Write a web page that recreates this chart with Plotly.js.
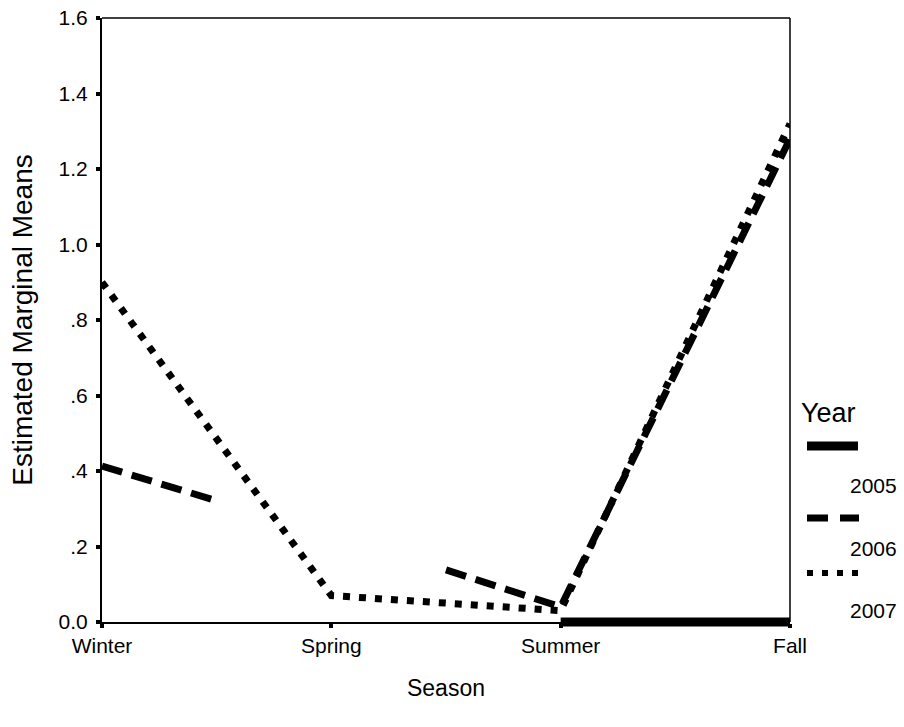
<!DOCTYPE html>
<html>
<head>
<meta charset="utf-8">
<script src="https://cdn.plot.ly/plotly-3.0.1.min.js"></script>
<style>
html,body{margin:0;padding:0;background:#fff;}
#chart{width:904px;height:727px;}
</style>
</head>
<body>
<div id="chart"></div>
<script>
// ---- data ----
var seasons = ['Winter', 'Spring', 'Summer', 'Fall'];
var seasonPos = [0, 1, 2, 3];
var years = ['2005', '2006', '2007'];
var y2005 = [null, null, 0, 0];
// 2006 is drawn in SPSS with a gap between Winter and Summer; visible points
var x2006 = [0, 0.49, null, 1.5, 2, 3];
var y2006 = [0.413, 0.323, null, 0.138, 0.04, 1.28];
var y2007 = [0.90, 0.07, 0.03, 1.32];
var yTickVals = [0, 0.2, 0.4, 0.6, 0.8, 1.0, 1.2, 1.4, 1.6];
var yTickText = ['0.0', '.2', '.4', '.6', '.8', '1.0', '1.2', '1.4', '1.6'];

// ---- layout geometry (pixels) ----
var W = 904, H = 727;
var L = 102, R = 790, T = 18, B = 622; // plot frame
var mB = 95; // bottom margin; inner subplot extends 10px below axis so thick lines aren't clipped
var paperH = H - T - mB;
var paperW = R - L;
function px(p) { return (p - L) / paperW; }
function py(p) { return (H - mB - p) / paperH; }
var mainBottom = py(B);
var unitPx = (B - T) / 1.6;
var y2min = -(H - mB - B) / unitPx;

var FONT = 'Liberation Sans, Arial, sans-serif';

var traces = [
  // empty trace so the main (frame) subplot is drawn
  {x: [], y: [], xaxis: 'x', yaxis: 'y', mode: 'lines', hoverinfo: 'skip', showlegend: false},
  {x: seasonPos, y: y2005, xaxis: 'x2', yaxis: 'y2', mode: 'lines', name: years[0],
   line: {color: '#000', width: 9}, connectgaps: false, hoverinfo: 'skip'},
  {x: x2006, y: y2006, xaxis: 'x2', yaxis: 'y2', mode: 'lines', name: years[1],
   line: {color: '#000', width: 7, dash: '21px,10px'}, connectgaps: false, hoverinfo: 'skip'},
  {x: seasonPos, y: y2007, xaxis: 'x2', yaxis: 'y2', mode: 'lines', name: years[2],
   line: {color: '#000', width: 7, dash: '7px,9px'}, hoverinfo: 'skip'}
];

var axCommon = {showgrid: false, zeroline: false, showline: true, linecolor: '#000', linewidth: 2,
  ticks: 'outside', ticklen: 4, tickwidth: 4, tickcolor: '#000', fixedrange: true, automargin: false};

var layout = {
  width: W, height: H,
  margin: {l: L, r: W - R, t: T, b: mB, pad: 0},
  paper_bgcolor: '#fff', plot_bgcolor: 'rgba(0,0,0,0)',
  showlegend: false,
  font: {family: FONT, color: '#000'},
  xaxis: Object.assign({}, axCommon, {
    domain: [0, 1], range: [0, 3], tickmode: 'array', tickvals: seasonPos, ticktext: seasons,
    tickfont: {size: 21, family: FONT, color: '#000'},
    title: {text: 'Season', font: {size: 23, family: FONT, color: '#000'}, standoff: 24},
    anchor: 'y'
  }),
  yaxis: Object.assign({}, axCommon, {
    domain: [mainBottom, 1], range: [0, 1.6], tickmode: 'array', tickvals: yTickVals, ticktext: yTickText,
    tickfont: {size: 21, family: FONT, color: '#000'},
    ticklabelstandoff: 4,
    title: {text: 'Estimated Marginal Means', font: {size: 28, family: FONT, color: '#000'}, standoff: 18},
    anchor: 'x'
  }),
  xaxis2: {domain: [0, 1], range: [0, 3], visible: false, anchor: 'y2', fixedrange: true},
  yaxis2: {domain: [0, 1], range: [y2min, 1.6], visible: false, anchor: 'x2', fixedrange: true},
  shapes: [
    // top and right frame lines (thin)
    {type: 'line', xref: 'paper', yref: 'paper', x0: 0, x1: 1, y0: 1, y1: 1, line: {color: '#000', width: 1.5}},
    {type: 'line', xref: 'paper', yref: 'paper', x0: 1, x1: 1, y0: mainBottom, y1: 1, line: {color: '#000', width: 1.5}},
    // legend samples
    {type: 'line', xref: 'paper', yref: 'paper', x0: px(807), x1: px(858), y0: py(446), y1: py(446), line: {color: '#000', width: 9}},
    {type: 'line', xref: 'paper', yref: 'paper', x0: px(807), x1: px(859), y0: py(518), y1: py(518), line: {color: '#000', width: 7, dash: '21px,12px'}},
    {type: 'line', xref: 'paper', yref: 'paper', x0: px(807), x1: px(859), y0: py(573), y1: py(573), line: {color: '#000', width: 6, dash: '6px,9px'}}
  ],
  annotations: [
    {text: 'Year', xref: 'paper', yref: 'paper', x: px(799), y: py(413), xanchor: 'left', yanchor: 'middle', showarrow: false, font: {size: 27, family: FONT, color: '#000'}},
    {text: years[0], xref: 'paper', yref: 'paper', x: px(899), y: py(485), xanchor: 'right', yanchor: 'middle', showarrow: false, font: {size: 21, family: FONT, color: '#000'}},
    {text: years[1], xref: 'paper', yref: 'paper', x: px(899), y: py(548), xanchor: 'right', yanchor: 'middle', showarrow: false, font: {size: 21, family: FONT, color: '#000'}},
    {text: years[2], xref: 'paper', yref: 'paper', x: px(899), y: py(610), xanchor: 'right', yanchor: 'middle', showarrow: false, font: {size: 21, family: FONT, color: '#000'}}
  ]
};

Plotly.newPlot('chart', traces, layout, {displayModeBar: false, staticPlot: true});
</script>
</body>
</html>
